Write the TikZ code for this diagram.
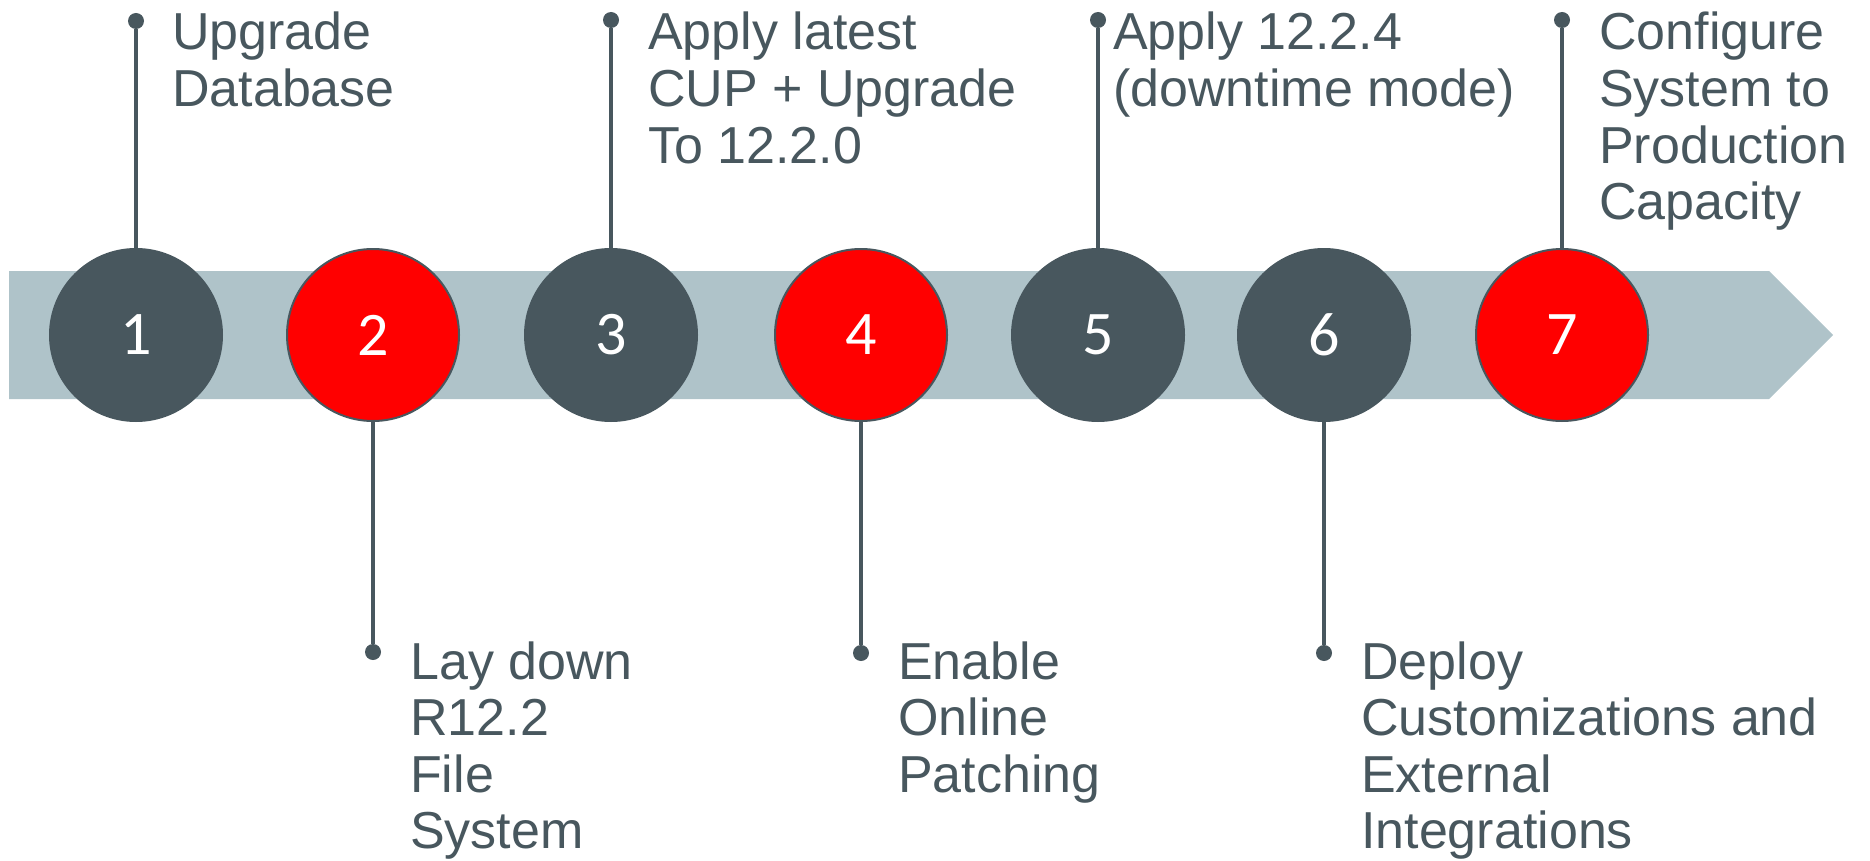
\documentclass[tikz,border=0pt]{standalone}
\usepackage{fontspec}
\setmainfont{Liberation Sans}
\newfontfamily\numfont{Carlito}
\definecolor{slate}{HTML}{48575E}
\definecolor{bandc}{HTML}{AFC3C9}
\definecolor{ored}{HTML}{FF0000}
\newcommand{\mylines}[1]{\begin{tabular}[t]{@{}l@{}}#1\end{tabular}}
\tikzset{
  darkstep/.style={circle, fill=slate, draw=slate, line width=2pt, minimum size=172pt, inner sep=0pt, text=white, font=\numfont\fontsize{62}{64}\selectfont},
  redstep/.style={darkstep, fill=ored},
  pindot/.style={circle, fill=slate, minimum size=16pt, inner sep=0pt},
  lbl/.style={anchor=base west, inner sep=0pt, text=slate, font=\fontsize{52}{56.6}\selectfont},
  stem/.style={draw=slate, line width=4pt},
  bandstyle/.style={fill=bandc, draw=none}
}
\begin{document}
\begin{tikzpicture}[x=1pt, y=-1pt]
\useasboundingbox (0,0) rectangle (1870,861);
\fill[bandstyle] (9,271) -- (1769,271) -- (1833,335) -- (1769,399) -- (9,399) -- cycle;
% dots
\node[pindot] (d1) at (136,21) {};
\node[pindot] (d2) at (373,652) {};
\node[pindot] (d3) at (611,20) {};
\node[pindot] (d4) at (861,653) {};
\node[pindot] (d5) at (1098,20) {};
\node[pindot] (d6) at (1324,653) {};
\node[pindot] (d7) at (1562,20) {};
% circles
\node[darkstep] (c1) at (136,335) {1};
\node[redstep]  (c2) at (373,335) {2};
\node[darkstep] (c3) at (611,335) {3};
\node[redstep]  (c4) at (861,335) {4};
\node[darkstep] (c5) at (1098,335) {5};
\node[darkstep] (c6) at (1324,335) {6};
\node[redstep]  (c7) at (1562,335) {7};
% stems
\draw[stem] (d1) -- (c1);
\draw[stem] (d2) -- (c2);
\draw[stem] (d3) -- (c3);
\draw[stem] (d4) -- (c4);
\draw[stem] (d5) -- (c5);
\draw[stem] (d6) -- (c6);
\draw[stem] (d7) -- (c7);
% labels
\node[lbl] (t1) at (172,50) {\mylines{Upgrade\\Database}};
\node[lbl] (t2) at (410,679) {\mylines{Lay down\\R12.2\\File\\System}};
\node[lbl] (t3) at (648,50) {\mylines{Apply latest\\CUP + Upgrade\\To 12.2.0}};
\node[lbl] (t4) at (898,679) {\mylines{Enable\\Online\\Patching}};
\node[lbl] (t5) at (1113,50) {\mylines{Apply 12.2.4\\(downtime mode)}};
\node[lbl] (t6) at (1361,679) {\mylines{Deploy\\Customizations and\\External\\Integrations}};
\node[lbl] (t7) at (1599,50) {\mylines{Configure\\System to\\Production\\Capacity}};
\end{tikzpicture}
\end{document}
